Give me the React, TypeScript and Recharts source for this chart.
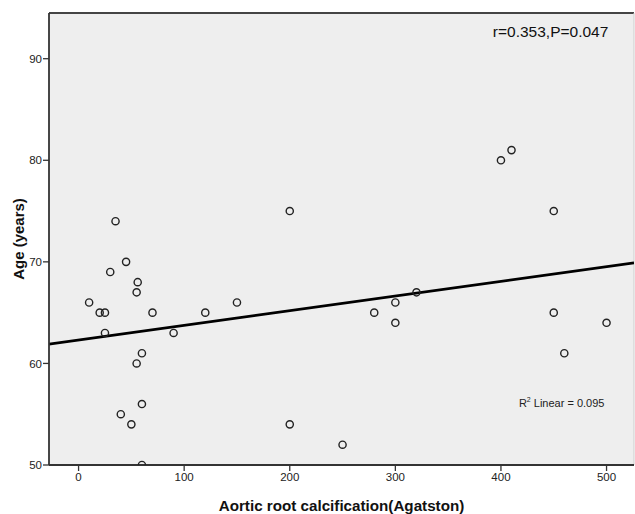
import React from 'react';
import {
  ScatterChart,
  Scatter,
  XAxis,
  YAxis,
  CartesianGrid,
  ReferenceLine,
  ReferenceDot,
} from 'recharts';

const calcification = [
  10, 20, 25, 25, 35, 30, 45, 56, 55, 70, 90, 120, 60, 55, 60, 40, 50, 60,
  200, 150, 280, 300, 300, 320, 200, 250, 410, 400, 450, 450, 500, 460,
];
const age = [
  66, 65, 65, 63, 74, 69, 70, 68, 67, 65, 63, 65, 61, 60, 56, 55, 54, 50,
  75, 66, 65, 66, 64, 67, 54, 52, 81, 80, 75, 65, 64, 61,
];
const xTicks = [0, 100, 200, 300, 400, 500];
const yTicks = [50, 60, 70, 80, 90];
const xDomain = [-28, 526];
const yDomain = [50, 94.5];
const fitLine = [
  { x: -28, y: 61.9 },
  { x: 526, y: 69.9 },
];

const points = calcification.map((x, i) => ({ x, y: age[i] }));

const FONT = '"Liberation Sans", Arial, sans-serif';

const OpenCircle = (props: any) => {
  const { cx, cy } = props;
  if (cx == null || cy == null) return null;
  return <circle cx={cx} cy={cy} r={3.6} fill="none" stroke="#222" strokeWidth={1.4} />;
};

export default function App() {
  return (
    <div style={{ position: 'absolute', left: 0, top: 0, width: 635, height: 514, background: '#fff' }}>
      <ScatterChart
        width={635}
        height={514}
        margin={{ top: 13, right: 1, bottom: 0, left: 0 }}
        style={{ fontFamily: FONT }}
      >
        <CartesianGrid horizontal={false} vertical={false} fill="#eeeeee" />
        <XAxis
          type="number"
          dataKey="x"
          domain={xDomain}
          ticks={xTicks}
          allowDataOverflow
          height={49}
          tickSize={6}
          tickMargin={2}
          axisLine={{ stroke: '#333', strokeWidth: 1.8 }}
          tickLine={{ stroke: '#333', strokeWidth: 1.3 }}
          tick={{ fill: '#222', fontSize: 11.5, fontFamily: FONT }}
          label={{
            content: (p: any) => {
              const vb = p.viewBox;
              return (
                <text
                  x={vb.x + vb.width / 2}
                  y={505}
                  textAnchor="middle"
                  dominantBaseline="central"
                  fontSize={15.2}
                  fontWeight="bold"
                  fill="#111"
                  fontFamily={FONT}
                >
                  Aortic root calcification(Agatston)
                </text>
              );
            },
          }}
        />
        <YAxis
          type="number"
          dataKey="y"
          domain={yDomain}
          ticks={yTicks}
          allowDataOverflow
          width={49}
          tickSize={6}
          tickMargin={1}
          axisLine={{ stroke: '#333', strokeWidth: 1.8 }}
          tickLine={{ stroke: '#333', strokeWidth: 1.3 }}
          tick={{ fill: '#222', fontSize: 11.5, fontFamily: FONT }}
          label={{
            content: (p: any) => {
              const vb = p.viewBox;
              const cy = vb.y + vb.height / 2;
              return (
                <text
                  x={18}
                  y={cy}
                  transform={`rotate(-90, 18, ${cy})`}
                  textAnchor="middle"
                  dominantBaseline="central"
                  fontSize={15}
                  fontWeight="bold"
                  fill="#111"
                  fontFamily={FONT}
                >
                  Age (years)
                </text>
              );
            },
          }}
        />
        <ReferenceLine y={yDomain[1]} stroke="#444" strokeWidth={1.8} />
        <ReferenceLine x={xDomain[1]} stroke="#cfcfcf" strokeWidth={1} />
        <ReferenceLine segment={fitLine} stroke="#000" strokeWidth={2.6} ifOverflow="hidden" />
        <Scatter data={points} shape={<OpenCircle />} isAnimationActive={false} />
        <ReferenceDot
          x={447}
          y={92.66}
          r={0}
          ifOverflow="visible"
          shape={(p: any) => (
            <text
              x={p.cx}
              y={p.cy}
              textAnchor="middle"
              dominantBaseline="central"
              fontSize={15.5}
              fill="#111"
              fontFamily={FONT}
            >
              r=0.353,P=0.047
            </text>
          )}
        />
        <ReferenceDot
          x={457.5}
          y={56.1}
          r={0}
          ifOverflow="visible"
          shape={(p: any) => (
            <text
              x={p.cx}
              y={p.cy}
              textAnchor="middle"
              dominantBaseline="central"
              fontSize={11}
              fill="#222"
              fontFamily={FONT}
            >
              R<tspan fontSize={7} dy={-4}>2</tspan>
              <tspan dy={4}> Linear = 0.095</tspan>
            </text>
          )}
        />
      </ScatterChart>
    </div>
  );
}
